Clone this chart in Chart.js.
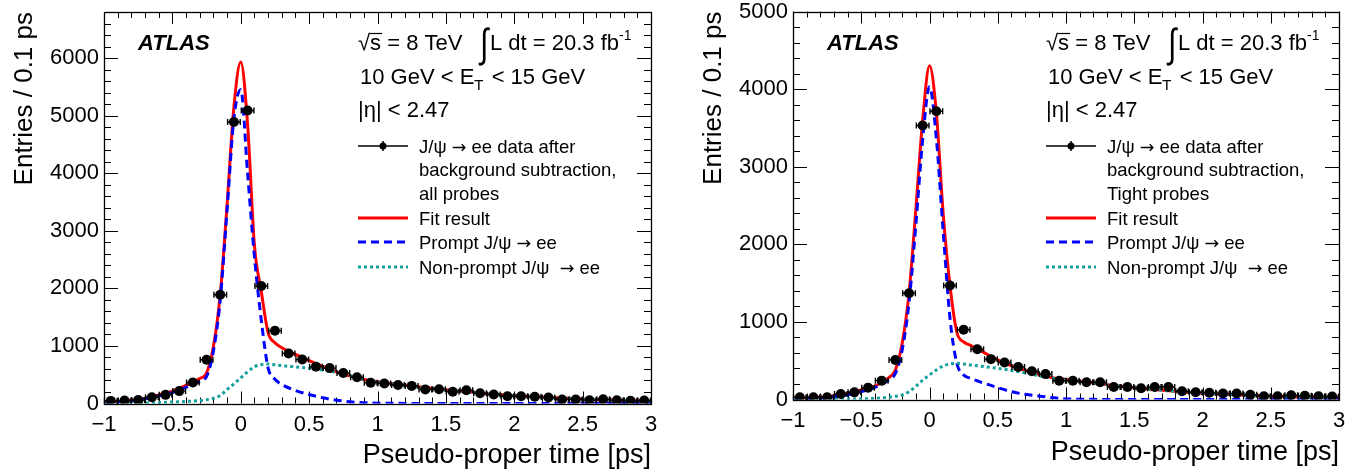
<!DOCTYPE html>
<html>
<head>
<meta charset="utf-8">
<script src="https://cdn.jsdelivr.net/npm/chart.js@4.4.1/dist/chart.umd.min.js"></script>
<style>
  html, body { margin: 0; padding: 0; background: #fff; }
  #wrap { position: relative; width: 1355px; height: 472px; }
  #wrap canvas { position: absolute; top: 0; }
</style>
</head>
<body>
<div id="wrap">
  <canvas id="leftPanel" width="680" height="472" style="left:0;width:680px;height:472px"></canvas>
  <canvas id="rightPanel" width="675" height="472" style="left:680px;width:675px;height:472px"></canvas>
</div>
<script>
// bins of 0.1 ps, centres
const binCenters = [-0.95,-0.85,-0.75,-0.65,-0.55,-0.45,-0.35,-0.25,-0.15,-0.05,
  0.05,0.15,0.25,0.35,0.45,0.55,0.65,0.75,0.85,0.95,
  1.05,1.15,1.25,1.35,1.45,1.55,1.65,1.75,1.85,1.95,
  2.05,2.15,2.25,2.35,2.45,2.55,2.65,2.75,2.85,2.95];
const binHalfWidth = 0.05;

// background-subtracted entries per bin
const allProbes = [45,50,60,110,150,215,365,760,1890,4890,
  5090,2040,1265,870,765,640,615,530,457,360,
  348,322,306,243,248,203,231,179,156,127,
  127,116,104,69,69,57,75,57,46,52];
const tightProbes = [30,30,30,70,92,153,243,510,1370,3530,
  3714,1469,899,648,520,477,418,364,327,241,
  241,222,222,161,161,145,161,161,107,94,
  86,77,77,60,43,43,55,47,43,39];

// fit curves at these times
const curveT = [-1,-0.9,-0.8,-0.7,-0.6,-0.5,-0.4,-0.3,-0.25,-0.2,-0.15,-0.1,-0.05,0,
  0.05,0.1,0.15,0.2,0.25,0.3,0.4,0.5,0.6,0.7,0.8,0.9,1.0,1.2,1.4,1.6,1.8,2.0,2.25,2.5,2.75,3.0];

const fitAll = [25,40,58,90,150,214,313,435,530,990,1890,3450,5150,5930,
  4850,2750,1950,1230,1055,968,852,745,645,550,475,417,377,320,265,215,170,135,105,78,58,45];
const promptAll = [15,25,45,80,130,190,280,385,470,910,1800,3360,4950,5450,
  4000,2550,1450,620,420,330,226,157,99,58,30,14,6,2,0,0,0,0,0,0,0,0];
const nonPromptAll = [0,2,5,10,15,25,35,50,65,90,140,243,340,446,
  550,638,675,685,672,658,635,612,580,540,480,420,370,315,258,210,166,132,102,76,57,44];

const fitTight = [15,20,28,50,80,122,174,280,380,725,1370,2450,3600,4300,
  3700,2400,1470,870,742,699,604,510,435,375,325,282,258,215,170,135,105,82,60,42,30,20];
const promptTight = [5,8,15,35,62,102,155,250,337,640,1250,2250,3350,4030,
  3370,2170,1050,467,316,273,209,153,101,67,45,24,8,2,0,0,0,0,0,0,0,0];
const nonPromptTight = [0,1,2,4,6,9,15,30,42,58,100,170,250,316,
  380,432,458,467,458,445,424,402,375,345,307,275,250,213,170,135,105,82,60,42,30,20];

const xTicks = [-1,-0.5,0,0.5,1,1.5,2,2.5,3];
const yTicksAll = [0,1000,2000,3000,4000,5000,6000];
const yTicksTight = [0,1000,2000,3000,4000,5000];

(function(){
  const FONT = "'Liberation Sans', Arial, Helvetica, sans-serif";
  const ARROW_FONT = "'DejaVu Sans', sans-serif";
  const RED = '#ff0000', BLUE = '#0000ff', CYAN = '#13a09c';
  Chart.defaults.font.family = FONT;
  Chart.defaults.color = '#000';

  function pts(xs, ys){ return xs.map((x, i) => ({x: x, y: ys[i]})); }
  function fmt(v){ return v < 0 ? '\u2212' + Math.abs(v) : String(v); }

  // text with the arrow taken from a font that has a full-size one
  function drawWithArrow(ctx, text, x, y, size){
    const parts = text.split('\u2192');
    parts.forEach((p, i) => {
      ctx.font = size + 'px ' + FONT;
      ctx.fillText(p, x, y);
      x += ctx.measureText(p).width;
      if (i < parts.length - 1){
        ctx.font = (size - 1) + 'px ' + ARROW_FONT;
        ctx.fillText('\u2192', x, y);
        x += ctx.measureText('\u2192').width;
      }
    });
  }

  // ROOT style frame with inward ticks on all four sides
  const rootFrame = {
    id: 'rootFrame',
    beforeDatasetsDraw(chart, args, o){
      const {ctx, chartArea: a, scales: {x, y}} = chart;
      ctx.save();
      ctx.strokeStyle = '#000';
      ctx.lineWidth = 1;
      ctx.beginPath();
      for (let i = 0; i <= 40; i++){
        const px = Math.round(x.getPixelForValue(-1 + i * 0.1)) + 0.5;
        const len = (i % 5 === 0) ? 12 : 6;
        ctx.moveTo(px, a.bottom); ctx.lineTo(px, a.bottom - len);
        ctx.moveTo(px, a.top); ctx.lineTo(px, a.top + len);
      }
      for (let v = 0; v <= y.max; v += o.yMinor){
        const py = Math.round(y.getPixelForValue(v)) + 0.5;
        const len = (v % o.yMajor === 0) ? 14 : 7;
        ctx.moveTo(a.left, py); ctx.lineTo(a.left + len, py);
        ctx.moveTo(a.right, py); ctx.lineTo(a.right - len, py);
      }
      ctx.stroke();
      ctx.lineWidth = 1.3;
      ctx.strokeRect(Math.round(a.left) + 0.5, Math.round(a.top) + 0.5,
        Math.round(a.right - a.left), Math.round(a.bottom - a.top));
      ctx.restore();
    }
  };

  // horizontal bin-width bars with end caps on the data points
  const binErrors = {
    id: 'binErrors',
    afterDatasetsDraw(chart, args, o){
      const meta = chart.getDatasetMeta(0), xs = chart.scales.x, ctx = chart.ctx;
      const data = chart.data.datasets[0].data;
      ctx.save();
      ctx.strokeStyle = '#000';
      ctx.lineWidth = 1.4;
      ctx.beginPath();
      meta.data.forEach((pt, i) => {
        const x0 = xs.getPixelForValue(data[i].x - o.half);
        const x1 = xs.getPixelForValue(data[i].x + o.half);
        ctx.moveTo(x0, pt.y); ctx.lineTo(x1, pt.y);
        ctx.moveTo(x0 + 0.5, pt.y - 3); ctx.lineTo(x0 + 0.5, pt.y + 3);
        ctx.moveTo(x1 - 0.5, pt.y - 3); ctx.lineTo(x1 - 0.5, pt.y + 3);
      });
      ctx.stroke();
      ctx.restore();
    }
  };

  // ATLAS label, conditions and legend
  const panelText = {
    id: 'panelText',
    afterDraw(chart, args, o){
      const ctx = chart.ctx, a = chart.chartArea;
      const hx = a.right - 293;
      ctx.save();
      ctx.fillStyle = '#000';
      ctx.strokeStyle = '#000';
      ctx.textBaseline = 'alphabetic';

      ctx.font = 'italic bold 22px ' + FONT;
      ctx.fillText('ATLAS', a.left + 34, 50);

      // line 1
      ctx.font = '22px ' + FONT;
      let x = hx;
      ctx.fillText('\u221A', x, 50);
      x += ctx.measureText('\u221A').width;
      const sw = ctx.measureText('s').width;
      ctx.fillText('s', x, 50);
      ctx.lineWidth = 1.2;
      ctx.beginPath(); ctx.moveTo(x - 0.5, 33.5); ctx.lineTo(x + sw + 1, 33.5); ctx.stroke();
      x += sw;
      ctx.fillText(' = 8 TeV', x, 50);
      x = hx + 122;
      ctx.save();
      ctx.translate(x, 57);
      ctx.scale(1, 1.35);
      ctx.font = '30px ' + FONT;
      ctx.fillText('\u222B', 0, 0);
      ctx.restore();
      x += 10;
      ctx.fillText('L dt = 20.3 fb', x, 50);
      x += ctx.measureText('L dt = 20.3 fb').width;
      ctx.font = '14px ' + FONT;
      ctx.fillText('-1', x, 40);

      // line 2
      ctx.font = '22px ' + FONT;
      x = hx + 2;
      ctx.fillText('10 GeV < E', x, 84);
      x += ctx.measureText('10 GeV < E').width;
      ctx.font = '15px ' + FONT;
      ctx.fillText('T', x, 90);
      x += ctx.measureText('T').width + 2;
      ctx.font = '22px ' + FONT;
      ctx.fillText(' < 15 GeV', x, 84);

      // line 3
      ctx.fillText('|\u03B7| < 2.47', hx, 117);

      // legend
      const l0 = hx, l1 = hx + 50, tx = hx + 61;
      const rows = [146, 169, 193, 218, 242, 267];
      ctx.lineWidth = 1.5;
      ctx.beginPath();
      ctx.moveTo(l0, rows[0]); ctx.lineTo(l1, rows[0]);
      ctx.moveTo((l0 + l1) / 2, rows[0] - 5); ctx.lineTo((l0 + l1) / 2, rows[0] + 5);
      ctx.stroke();
      ctx.beginPath(); ctx.arc((l0 + l1) / 2, rows[0], 3.5, 0, Math.PI * 2); ctx.fill();

      ctx.lineWidth = 3;
      ctx.strokeStyle = RED;
      ctx.beginPath(); ctx.moveTo(l0, rows[3]); ctx.lineTo(l1, rows[3]); ctx.stroke();
      ctx.strokeStyle = BLUE;
      ctx.setLineDash([8, 5]);
      ctx.beginPath(); ctx.moveTo(l0, rows[4]); ctx.lineTo(l1, rows[4]); ctx.stroke();
      ctx.strokeStyle = CYAN;
      ctx.setLineDash([3, 3]);
      ctx.beginPath(); ctx.moveTo(l0, rows[5]); ctx.lineTo(l1, rows[5]); ctx.stroke();
      ctx.setLineDash([]);

      const labels = ['J/\u03C8 \u2192 ee data after', 'background subtraction,', o.probe,
        'Fit result', 'Prompt J/\u03C8 \u2192 ee', 'Non-prompt J/\u03C8  \u2192 ee'];
      labels.forEach((t, i) => drawWithArrow(ctx, t, tx, rows[i] + 6.5, 18.5));
      ctx.restore();
    }
  };

  function makePanel(id, cfg){
    return new Chart(document.getElementById(id), {
      type: 'line',
      data: {
        datasets: [
          { label: 'data', data: pts(binCenters, cfg.counts), showLine: false,
            pointRadius: 5, pointBackgroundColor: '#000', pointBorderColor: '#000', pointBorderWidth: 0 },
          { label: 'Non-prompt', data: pts(curveT, cfg.nonPrompt), borderColor: CYAN, borderWidth: 3,
            borderDash: [3, 3], pointRadius: 0, cubicInterpolationMode: 'monotone', fill: false },
          { label: 'Prompt', data: pts(curveT, cfg.prompt), borderColor: BLUE, borderWidth: 3,
            borderDash: [8, 5], pointRadius: 0, cubicInterpolationMode: 'monotone', fill: false },
          { label: 'Fit', data: pts(curveT, cfg.fit), borderColor: RED, borderWidth: 3,
            pointRadius: 0, cubicInterpolationMode: 'monotone', fill: false }
        ]
      },
      options: {
        responsive: false,
        animation: false,
        events: [],
        layout: { padding: cfg.pad },
        plugins: {
          legend: { display: false },
          tooltip: { enabled: false },
          rootFrame: { yMinor: 200, yMajor: 1000 },
          binErrors: { half: binHalfWidth },
          panelText: { probe: cfg.probe }
        },
        scales: {
          x: {
            type: 'linear', min: -1, max: 3,
            grid: { display: false, drawTicks: false },
            border: { display: false },
            afterBuildTicks: s => { s.ticks = xTicks.map(v => ({ value: v })); },
            afterFit: s => { s.height = cfg.xh; s.paddingLeft = 0; s.paddingRight = 0; },
            ticks: { font: { size: 22 }, padding: 8, maxRotation: 0, autoSkip: false, callback: v => fmt(v) },
            title: { display: true, text: 'Pseudo-proper time [ps]', align: 'end',
              font: { size: 27 }, padding: { top: 0, bottom: cfg.xtPad } }
          },
          y: {
            min: 0, max: cfg.ymax,
            grid: { display: false, drawTicks: false },
            border: { display: false },
            afterBuildTicks: s => { s.ticks = cfg.yTicks.map(v => ({ value: v })); },
            afterFit: s => { s.width = cfg.yw; s.paddingTop = 0; s.paddingBottom = 0; },
            ticks: { font: { size: 22 }, padding: 5, autoSkip: false, callback: v => String(v) },
            title: { display: true, text: 'Entries / 0.1 ps', align: 'end',
              font: { size: 26 }, padding: { top: cfg.ytPad, bottom: 0 } }
          }
        }
      },
      plugins: [rootFrame, binErrors, panelText]
    });
  }

  makePanel('leftPanel', {
    counts: allProbes, fit: fitAll, prompt: promptAll, nonPrompt: nonPromptAll,
    probe: 'all probes', ymax: 6800, yTicks: yTicksAll,
    pad: { left: 0, right: 29, top: 12, bottom: 0 }, yw: 104, xh: 68.5, xtPad: 0, ytPad: 9
  });
  makePanel('rightPanel', {
    counts: tightProbes, fit: fitTight, prompt: promptTight, nonPrompt: nonPromptTight,
    probe: 'Tight probes', ymax: 5000, yTicks: yTicksTight,
    pad: { left: 0, right: 16, top: 11.5, bottom: 0 }, yw: 113, xh: 72.5, xtPad: 3, ytPad: 18
  });
})();
</script>
</body>
</html>
